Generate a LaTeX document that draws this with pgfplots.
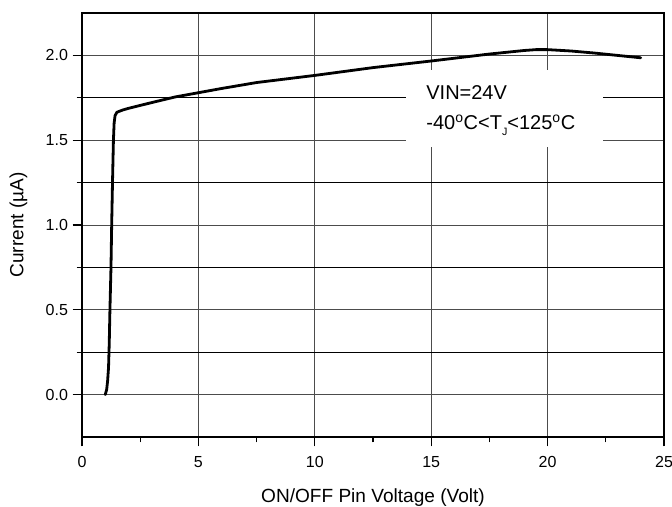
\documentclass[border=0pt]{standalone}
\usepackage{pgfplots}
\pgfplotsset{compat=1.18}
\usepackage{fontspec}
\setmainfont{Liberation Sans}
\begin{document}
\begin{tikzpicture}
\begin{axis}[
  scale only axis,
  width=436.5pt, height=318pt,
  xmin=0, xmax=25, ymin=-0.25, ymax=2.25,
  xtick={0,5,10,15,20,25},
  ytick={0,0.5,1,1.5,2},
  minor x tick num=1,
  minor y tick num=1,
  xmajorgrids=true, ymajorgrids=true,
  yminorgrids=true, xminorgrids=false,
  major grid style={black!70, line width=0.7pt},
  minor grid style={black, line width=0.5pt},
  tick align=outside,
  xtick pos=bottom, ytick pos=left,
  major tick length=7pt, minor tick length=4pt,
  every tick/.style={black, line width=0.8pt},
  axis line style={black, line width=1.1pt},
  /pgf/number format/assume math mode=true,
  yticklabel style={/pgf/number format/.cd, fixed, fixed zerofill, precision=1},
  tick label style={font=\fontsize{12}{12}\selectfont},
  label style={font=\fontsize{14.3}{14.3}\selectfont},
  xlabel={ON/OFF Pin Voltage (Volt)},
  ylabel={Current (µA)},
  xticklabel style={yshift=-4pt},
  xlabel style={yshift=-9pt},
  ylabel style={yshift=7pt},
]
\addplot[black, line width=2.1pt, line join=round, line cap=round] coordinates {
(1.00,0.00) (1.06,0.03) (1.10,0.08) (1.14,0.16) (1.17,0.30) (1.20,0.50)
(1.245,0.75) (1.275,1.00) (1.31,1.25) (1.35,1.50) (1.38,1.60) (1.42,1.645)
(1.50,1.665) (1.75,1.678) (2.0,1.688) (2.5,1.705) (3.0,1.722) (4.0,1.755)
(5.0,1.78) (6.0,1.805) (7.5,1.84) (10,1.882) (12.5,1.928) (15,1.967)
(17.5,2.008) (19,2.029) (19.5,2.034) (20,2.034) (21,2.026) (22,2.014)
(23,2.0) (24,1.986)
};
\fill[white] (axis cs:13.9,1.458) rectangle (axis cs:22.4,1.912);
\node[anchor=base west, inner sep=0pt, font=\fontsize{15}{15}\selectfont] at (axis cs:14.78,1.741) {VIN=24V};
\node[anchor=base west, inner sep=0pt, font=\fontsize{15}{15}\selectfont] at (axis cs:14.78,1.564) {-40\textsuperscript{o}C<T\raisebox{-0.55ex}{\fontsize{8}{8}\selectfont J}<125\textsuperscript{o}C};
\end{axis}
\pgfresetboundingbox
\path ([shift={(-61.5pt,-52pt)}]current axis.south west) rectangle ([shift={(6pt,9.75pt)}]current axis.north east);
\end{tikzpicture}
\end{document}
